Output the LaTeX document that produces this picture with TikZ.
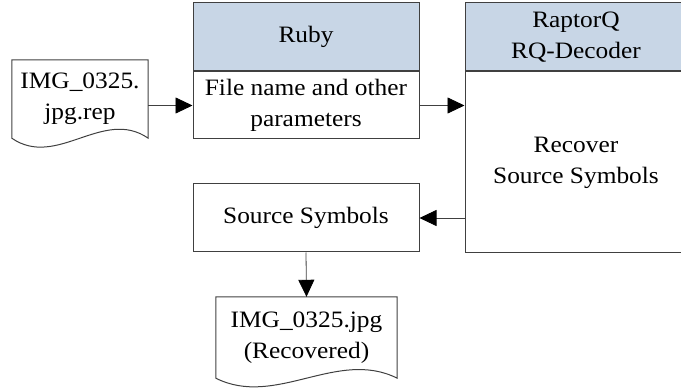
\documentclass[tikz,border=0pt]{standalone}
\usepackage{fontspec}
\setmainfont[FakeStretch=1.08]{Liberation Serif}
\usetikzlibrary{arrows.meta,positioning}
\definecolor{headblue}{RGB}{200,214,230}
\definecolor{linegray}{RGB}{64,64,64}
\begin{document}
\begin{tikzpicture}[x=1pt,y=-1pt,
  every node/.style={font=\fontsize{23.5}{31}\selectfont,align=center,inner sep=0pt},
  box/.style={rectangle,draw=linegray,line width=1pt,minimum width=226pt},
  head/.style={box,fill=headblue,minimum height=68pt},
  doc/.style={rectangle,inner sep=0pt},
  docline/.style={draw=linegray,line width=1pt},
  arr/.style={-{Triangle[length=17pt,width=16pt,color=black]},draw=linegray,line width=0.8pt}]
\useasboundingbox (0,0) rectangle (681,390);

\path (306,37) node[head] (rubyhead) {Ruby};
\node[box,minimum height=67pt,below=0pt of rubyhead] (rubybody) {File name and other\\parameters};

\path (576,37) node[head,minimum width=222pt] (rqhead) {RaptorQ\\RQ-Decoder};
\node[box,minimum width=222pt,minimum height=181pt,below=0pt of rqhead] (rqbody) {Recover\\Source Symbols};

\path (306,218) node[box,minimum height=68pt] (sym) {Source Symbols};

\path (80,99) node[doc,minimum width=136pt,minimum height=78pt] (indoc) {IMG\_0325.\\jpg.rep};
\draw[docline] (indoc.north west) -- (indoc.north east) -- (indoc.south east)
  .. controls +(-45,-31) and +(45,31) .. (indoc.south west) -- cycle;

\path (306.5,337.5) node[doc,minimum width=181pt,minimum height=81pt] (outdoc) {IMG\_0325.jpg\\(Recovered)};
\draw[docline] (outdoc.north west) -- (outdoc.north east) -- (outdoc.south east)
  .. controls +(-60,-30) and +(60,30) .. (outdoc.south west) -- cycle;

\draw[arr] (indoc.east |- rubybody.west) -- (rubybody.west);
\draw[arr] (rubybody.east) -- (rubybody.east -| rqbody.west);
\draw[arr] (sym.east -| rqbody.west) -- (sym.east);
\draw[arr] (sym.south) -- (outdoc.north);
\end{tikzpicture}
\end{document}
